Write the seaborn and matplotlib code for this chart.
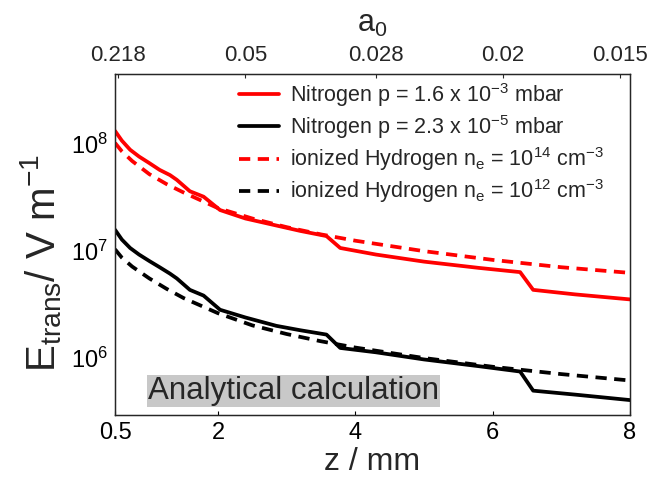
import numpy as np
import pandas as pd
import seaborn as sns
import matplotlib.pyplot as plt

# values
z_solid = [0.5, 0.6, 0.72, 0.85, 1.0, 1.15, 1.3, 1.4, 1.59, 1.79, 2.03, 2.4, 2.85, 3.2, 3.58,
           3.78, 4.3, 5.0, 5.8, 6.4, 6.59, 7.2, 8.0]
n2_high = [1.32e8, 1.07e8, 8.8e7, 7.6e7, 6.6e7, 5.7e7, 5.1e7, 4.6e7, 3.6e7, 3.2e7, 2.4e7, 2.0e7,
           1.72e7, 1.53e7, 1.37e7, 1.06e7, 9.2e6, 7.9e6, 6.9e6, 6.3e6, 4.3e6, 3.9e6, 3.5e6]
n2_low = [1.57e7, 1.27e7, 1.06e7, 9.2e6, 8.0e6, 7.0e6, 6.1e6, 5.5e6, 4.3e6, 3.8e6, 2.8e6, 2.37e6,
          1.98e6, 1.8e6, 1.64e6, 1.23e6, 1.12e6, 9.6e5, 8.3e5, 7.4e5, 4.9e5, 4.5e5, 4.0e5]

z_dash = [0.5, 0.6, 0.75, 1.0, 1.25, 1.5, 2.0, 2.5, 3.0, 3.5, 4.0, 5.0, 6.0, 7.0, 8.0]
h_1e14 = [1.02e8, 8.5e7, 6.9e7, 5.2e7, 4.2e7, 3.5e7, 2.5e7, 2.0e7, 1.66e7, 1.42e7, 1.24e7,
          9.9e6, 8.2e6, 7.0e6, 6.2e6]
h_1e12 = [1.03e7, 8.6e6, 7.1e6, 5.5e6, 4.4e6, 3.6e6, 2.6e6, 2.0e6, 1.66e6, 1.42e6, 1.24e6,
          9.9e5, 8.2e5, 7.0e5, 6.1e5]

# top axis: a0 labels and where they sit on the z axis
top_ticks = ['0.218', '0.05', '0.028', '0.02', '0.015']
top_pos = [0.55, 2.4, 4.3, 6.15, 7.85]
bottom_ticks = [0.5, 2, 4, 6, 8]

sns.set_style('white')
plt.rcParams['font.family'] = ['Liberation Sans', 'DejaVu Sans']
plt.rcParams['mathtext.fontset'] = 'custom'
plt.rcParams['mathtext.rm'] = 'Liberation Sans'
plt.rcParams['mathtext.it'] = 'Liberation Sans:italic'
plt.rcParams['mathtext.default'] = 'regular'

fig, ax = plt.subplots(figsize=(6.55, 4.79), dpi=100)
fig.subplots_adjust(left=0.1756, right=0.9618, top=0.8455, bottom=0.1336)

lw = 2.7
sns.lineplot(x=z_solid, y=n2_high, color='red', lw=lw, ax=ax,
             label=r'Nitrogen p = 1.6 x 10$^{-3}$ mbar')
sns.lineplot(x=z_solid, y=n2_low, color='black', lw=lw, ax=ax,
             label=r'Nitrogen p = 2.3 x 10$^{-5}$ mbar')
sns.lineplot(x=z_dash, y=h_1e14, color='red', lw=lw, ax=ax,
             label=r'ionized Hydrogen n$_e$ = 10$^{14}$ cm$^{-3}$')
sns.lineplot(x=z_dash, y=h_1e12, color='black', lw=lw, ax=ax,
             label=r'ionized Hydrogen n$_e$ = 10$^{12}$ cm$^{-3}$')
for line in ax.lines[2:4]:
    line.set_dashes((3.0, 2.0))

ax.set_yscale('log')
ax.set_xlim(0.5, 8)
ax.set_ylim(2.9e5, 4.5e8)
ax.set_xticks(bottom_ticks)
ax.set_xticklabels(['0.5', '2', '4', '6', '8'])
ax.yaxis.set_minor_locator(plt.NullLocator())
ax.tick_params(direction='in', length=3, labelsize=17, colors='black', pad=5)
ax.set_xlabel('z / mm', fontsize=23, labelpad=2)
ax.set_ylabel(r'E$_{trans}$/ V m$^{-1}$', fontsize=29)
ax.yaxis.set_label_coords(-0.10, 0.445)
for sp in ax.spines.values():
    sp.set_color('#222222')
    sp.set_linewidth(1.0)

ax2 = ax.twiny()
ax2.set_xlim(ax.get_xlim())
ax2.set_xticks(top_pos)
ax2.set_xticklabels(top_ticks)
ax2.tick_params(direction='in', length=3, labelsize=16, pad=6)
ax2.set_xlabel(r'a$_0$', fontsize=22, labelpad=9)

leg = ax.legend(loc='upper right', frameon=False, fontsize=15.5, handlelength=1.85,
                handletextpad=0.5, labelspacing=0.2, borderaxespad=0,
                bbox_to_anchor=(0.965, 1.005))

ax.text(0.064, 0.07, 'Analytical calculation', transform=ax.transAxes, fontsize=22.5,
        va='center', ha='left',
        bbox=dict(facecolor='#c8c8c8', edgecolor='none', pad=1))

plt.savefig('out.png', dpi=100)
